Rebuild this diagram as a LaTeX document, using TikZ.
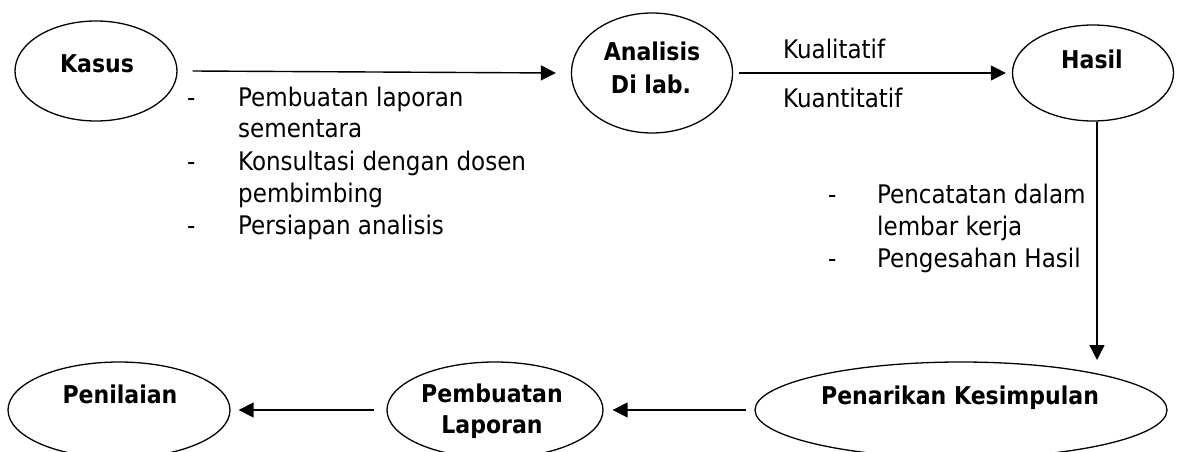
\documentclass[tikz,border=0pt]{standalone}
\usepackage{fontspec}
\setmainfont{DejaVu Sans Condensed}
\usetikzlibrary{arrows.meta,shapes.geometric}
\tikzset{
  ell/.style={draw, ellipse, line width=1.3pt, inner sep=0pt},
  arr/.style={line width=1.4pt, -{Triangle[length=15pt,width=15pt]}},
  bt/.style={font=\fontsize{24.5}{32}\selectfont\bfseries, inner sep=0pt, anchor=base},
  rt/.style={font=\fontsize{25.6}{32}\selectfont, inner sep=0pt},
}
\begin{document}
\begin{tikzpicture}[x=1pt,y=-1pt]
\useasboundingbox (0,0) rectangle (1177,452);
\fill[white] (0,0) rectangle (1177,452);
\begin{scope}
\clip (0,0) rectangle (1177,452);
% top row
\node[ell, minimum width=162pt, minimum height=100pt] (kasus) at (96,71) {};
\node[bt] (kasusT) at (97,72) {Kasus};
\node[ell, minimum width=161pt, minimum height=120pt] (anal) at (652,73) {};
\node[bt] (analT1) at (652,60) {Analisis};
\node[bt] (analT2) at (651,93) {Di lab.};
\node[ell, minimum width=161pt, minimum height=96pt] (hasil) at (1093,73) {};
\node[bt] (hasilT) at (1092,68) {Hasil};
% bottom row
\node[ell, minimum width=222pt, minimum height=96pt] (pen) at (119,410) {};
\node[bt] (penT) at (120,403) {Penilaian};
\node[ell, minimum width=216pt, minimum height=96pt] (pl) at (495,410) {};
\node[bt] (plT1) at (492,402) {Pembuatan};
\node[bt] (plT2) at (492,433) {Laporan};
\node[ell, minimum width=412pt, minimum height=96pt] (pk) at (961,410) {};
\node[bt] (pkT) at (960,404) {Penarikan Kesimpulan};
% labels
\node[rt, anchor=base west] (kual) at (783,59) {Kualitatif};
\node[rt, anchor=base west] (kuan) at (783,107) {Kuantitatif};
\node[rt, anchor=base west] (bl) at (187,106) {\begin{tabular}[t]{@{}p{51pt}@{}l@{}}
-&Pembuatan laporan\\
 &sementara\\
-&Konsultasi dengan dosen\\
 &pembimbing\\
-&Persiapan analisis
\end{tabular}};
\node[rt, anchor=base west] (br) at (828,203) {\begin{tabular}[t]{@{}p{49pt}@{}l@{}}
-&Pencatatan dalam\\
 &lembar kerja\\
-&Pengesahan Hasil
\end{tabular}};
% connectors
\coordinate (vtip) at (1097,360);
\draw[arr] ([xshift=15pt]kasus.east) -- ([xshift=-15pt]anal.west);
\draw[arr] ([xshift=6pt]anal.east) -- ([xshift=-6pt]hasil.west);
\draw[arr] ([xshift=4pt]hasil.south) -- (vtip);
\draw[arr] ([xshift=-8pt]pk.west) -- ([xshift=9pt]pl.east);
\draw[arr] ([xshift=-12pt]pl.west) -- ([xshift=8pt]pen.east);
\end{scope}
\end{tikzpicture}
\end{document}
